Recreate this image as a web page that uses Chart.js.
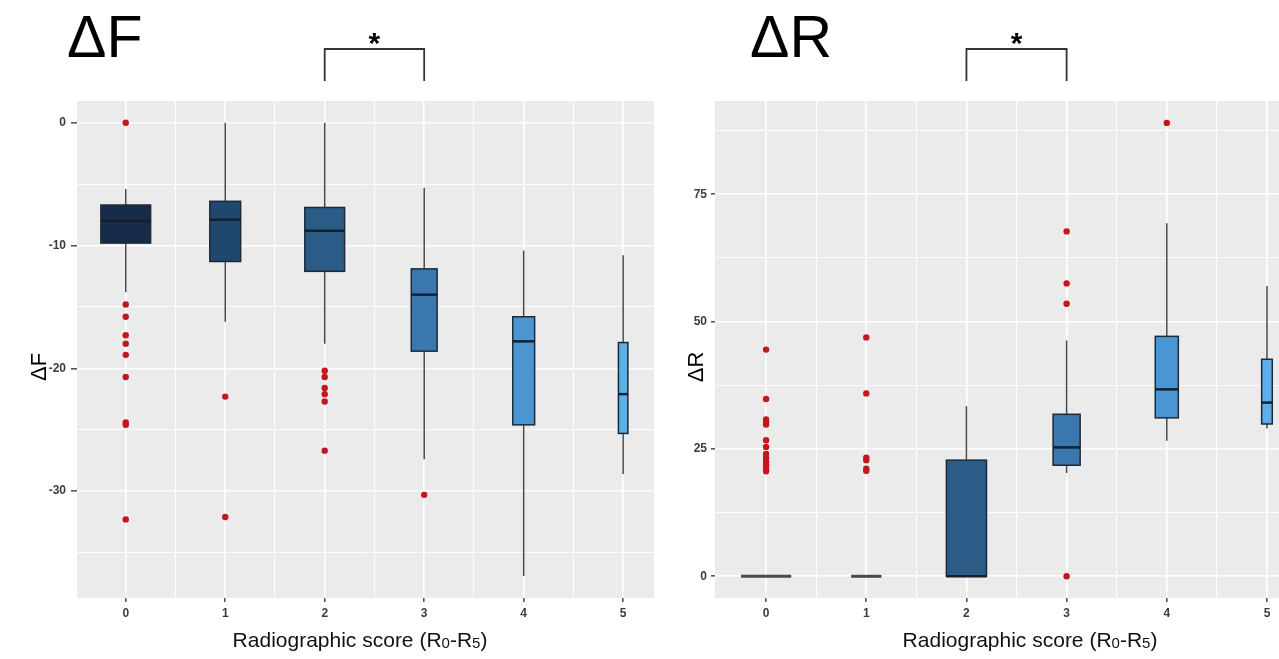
<!DOCTYPE html>
<html>
<head>
<meta charset="utf-8">
<script src="https://cdn.jsdelivr.net/npm/chart.js@4.4.1/dist/chart.umd.min.js"></script>
<style>
  body { margin: 0; background: #fff; width: 1279px; height: 659px; overflow: hidden; position: relative; }
  canvas { position: absolute; top: 0; }
  #chartF { left: 0; }
  #chartR { left: 660px; }
</style>
</head>
<body>
<canvas id="chartF" width="660" height="659"></canvas>
<canvas id="chartR" width="623" height="659"></canvas>
<script>
const categories = [0, 1, 2, 3, 4, 5];
const xTicksMajor = [0, 1, 2, 3, 4, 5];
const xTicksMinor = [0.5, 1.5, 2.5, 3.5, 4.5];
const boxColors = ['#172c48', '#1f4770', '#2b5c88', '#3a77ae', '#4c95d3', '#5bb0ec'];
const sigPair = [2, 3];

// ΔF panel
const dfLow  = [-13.8, -16.2, -18.0, -27.4, -36.9, -28.6];
const dfQ1   = [-9.8, -11.3, -12.1, -18.6, -24.6, -25.3];
const dfMed  = [-8.0, -7.9, -8.8, -14.0, -17.8, -22.1];
const dfQ3   = [-6.7, -6.4, -6.9, -11.9, -15.8, -17.9];
const dfHigh = [-5.4, 0, 0, -5.3, -10.4, -10.8];
const dfWidth = [0.5, 0.31, 0.4, 0.26, 0.22, 0.095];
const dfOutliers = [
  [0, -14.8, -15.8, -17.3, -18.0, -18.9, -20.7, -24.4, -24.6, -32.3],
  [-22.3, -32.1],
  [-20.2, -20.7, -21.6, -22.1, -22.7, -26.7],
  [-30.3],
  [],
  []
];
const dfTicksMajor = [0, -10, -20, -30];
const dfTicksMinor = [-5, -15, -25, -35];

// ΔR panel
const drLow  = [0, 0, 0, 20.3, 26.6, 29.0];
const drQ1   = [0, 0, 0, 21.8, 31.1, 29.9];
const drMed  = [0, 0, 0, 25.3, 36.7, 34.1];
const drQ3   = [0, 0, 22.8, 31.8, 47.1, 42.6];
const drHigh = [0, 0, 33.4, 46.3, 69.3, 57.0];
const drWidth = [0.5, 0.3, 0.4, 0.27, 0.23, 0.106];
const drOutliers = [
  [44.5, 34.8, 30.8, 30.3, 29.8, 26.7, 25.4, 24.0, 23.2, 22.5, 21.8, 21.0, 20.6],
  [46.9, 35.9, 23.3, 22.8, 21.1, 20.7],
  [],
  [67.7, 57.5, 53.5, 0],
  [89.0],
  []
];
const drTicksMajor = [0, 25, 50, 75];
const drTicksMinor = [12.5, 37.5, 62.5, 87.5];

const FONT = '"Liberation Sans", Arial, sans-serif';

const boxPlugin = {
  id: 'boxes',
  beforeDraw(chart) {
    const { ctx, chartArea: a } = chart;
    ctx.save();
    ctx.fillStyle = '#ebebeb';
    ctx.fillRect(a.left, a.top, a.right - a.left, a.bottom - a.top);
    ctx.restore();
  },
  beforeDatasetsDraw(chart, args, o) {
    const { ctx } = chart;
    const xs = chart.scales.x, ys = chart.scales.y;
    ctx.save();
    categories.forEach((c, i) => {
      const cx = xs.getPixelForValue(c);
      const x0 = xs.getPixelForValue(c - o.width[i] / 2);
      const x1 = xs.getPixelForValue(c + o.width[i] / 2);
      const yLo = ys.getPixelForValue(o.low[i]);
      const yQ1 = ys.getPixelForValue(o.q1[i]);
      const yMed = ys.getPixelForValue(o.med[i]);
      const yQ3 = ys.getPixelForValue(o.q3[i]);
      const yHi = ys.getPixelForValue(o.high[i]);
      const flat = o.q1[i] === o.q3[i];
      // whiskers
      ctx.strokeStyle = '#4a4a4a';
      ctx.lineWidth = 1.5;
      ctx.beginPath();
      ctx.moveTo(cx, yHi); ctx.lineTo(cx, yQ3);
      ctx.moveTo(cx, yQ1); ctx.lineTo(cx, yLo);
      ctx.stroke();
      // box
      ctx.fillStyle = boxColors[i];
      ctx.fillRect(x0, yQ3, x1 - x0, yQ1 - yQ3);
      ctx.strokeStyle = flat ? '#4a4a4a' : '#1c2a38';
      ctx.lineWidth = 1.5;
      ctx.strokeRect(x0, yQ3, x1 - x0, yQ1 - yQ3);
      // median
      ctx.strokeStyle = flat ? '#4a4a4a' : '#14202c';
      ctx.lineWidth = flat ? 3 : 2.5;
      ctx.beginPath();
      ctx.moveTo(x0, yMed); ctx.lineTo(x1, yMed);
      ctx.stroke();
    });
    ctx.restore();
  }
};

const decorPlugin = {
  id: 'decor',
  afterDraw(chart, args, o) {
    const { ctx } = chart;
    const xs = chart.scales.x;
    ctx.save();
    ctx.fillStyle = '#000';
    // big panel title
    ctx.font = '59px ' + FONT;
    ctx.textAlign = 'left';
    ctx.textBaseline = 'alphabetic';
    ctx.fillText(o.title, o.titleX, 57);
    // significance bracket
    const b0 = xs.getPixelForValue(sigPair[0]);
    const b1 = xs.getPixelForValue(sigPair[1]);
    ctx.strokeStyle = '#333';
    ctx.lineWidth = 1.8;
    ctx.beginPath();
    ctx.moveTo(b0, 81); ctx.lineTo(b0, 49); ctx.lineTo(b1, 49); ctx.lineTo(b1, 81);
    ctx.stroke();
    ctx.font = 'bold 30px ' + FONT;
    ctx.textAlign = 'center';
    ctx.fillText('*', (b0 + b1) / 2, 53);
    // y axis title
    ctx.save();
    ctx.translate(o.yTitleX, 367);
    ctx.rotate(-Math.PI / 2);
    ctx.font = '22px ' + FONT;
    ctx.textBaseline = 'middle';
    ctx.fillText(o.title, 0, 0);
    ctx.restore();
    // x axis title with subscripts
    const parts = [['Radiographic score (R', 21, 0], ['0', 15, 1], ['-R', 21, 0], ['5', 15, 1], [')', 21, 0]];
    let total = 0;
    parts.forEach(p => { ctx.font = p[1] + 'px ' + FONT; p.push(ctx.measureText(p[0]).width); total += p[3]; });
    let x = o.xTitleX - total / 2;
    ctx.textAlign = 'left';
    ctx.fillStyle = '#111';
    parts.forEach(p => {
      ctx.font = p[1] + 'px ' + FONT;
      ctx.fillText(p[0], x, 647 + p[2]);
      x += p[3];
    });
    ctx.restore();
  }
};

function makeChart(id, cfg) {
  const points = [];
  cfg.outliers.forEach((arr, i) => arr.forEach(v => points.push({ x: categories[i], y: v })));
  const tickFont = { family: FONT, size: 12, weight: 'bold' };
  return new Chart(document.getElementById(id), {
    type: 'scatter',
    data: {
      datasets: [{
        data: points,
        pointRadius: 3.2,
        pointBackgroundColor: '#c4161c',
        pointBorderWidth: 0
      }]
    },
    options: {
      responsive: false,
      animation: false,
      layout: { padding: { top: 101, right: cfg.padRight, left: 0, bottom: 0 } },
      plugins: {
        legend: { display: false },
        tooltip: { enabled: false },
        boxes: { low: cfg.low, q1: cfg.q1, med: cfg.med, q3: cfg.q3, high: cfg.high, width: cfg.width },
        decor: { title: cfg.title, titleX: cfg.titleX, yTitleX: cfg.yTitleX, xTitleX: cfg.xTitleX }
      },
      scales: {
        x: {
          type: 'linear',
          min: cfg.xMin,
          max: cfg.xMax,
          afterBuildTicks: s => { s.ticks = xTicksMajor.concat(xTicksMinor).map(v => ({ value: v })); },
          afterFit: s => { s.height = 61; s.paddingLeft = 0; s.paddingRight = 0; },
          border: { display: false },
          grid: {
            color: '#ffffff',
            lineWidth: c => xTicksMajor.includes(c.tick.value) ? 1.6 : 0.9,
            tickColor: c => xTicksMajor.includes(c.tick.value) ? '#555' : 'rgba(0,0,0,0)',
            tickLength: 4
          },
          ticks: {
            font: tickFont,
            color: '#3c3c3c',
            padding: 4,
            maxRotation: 0,
            autoSkip: false,
            callback: v => xTicksMajor.includes(v) ? String(v) : ''
          }
        },
        y: {
          min: cfg.yMin,
          max: cfg.yMax,
          afterBuildTicks: s => { s.ticks = cfg.ticksMajor.concat(cfg.ticksMinor).map(v => ({ value: v })); },
          afterFit: s => { s.width = cfg.yWidth; s.paddingTop = 0; s.paddingBottom = 0; },
          border: { display: false },
          grid: {
            color: '#ffffff',
            lineWidth: c => cfg.ticksMajor.includes(c.tick.value) ? 1.6 : 0.9,
            tickColor: c => cfg.ticksMajor.includes(c.tick.value) ? '#555' : 'rgba(0,0,0,0)',
            tickLength: cfg.tickLen
          },
          ticks: {
            font: tickFont,
            color: '#3c3c3c',
            padding: cfg.tickPad,
            autoSkip: false,
            callback: v => cfg.ticksMajor.includes(v) ? String(v) : ''
          }
        }
      }
    },
    plugins: [boxPlugin, decorPlugin]
  });
}

makeChart('chartF', {
  title: 'ΔF', titleX: 67, yTitleX: 40, xTitleX: 360,
  low: dfLow, q1: dfQ1, med: dfMed, q3: dfQ3, high: dfHigh, width: dfWidth, outliers: dfOutliers,
  ticksMajor: dfTicksMajor, ticksMinor: dfTicksMinor,
  xMin: -0.49, xMax: 5.31, yMin: -38.7, yMax: 1.77,
  yWidth: 77, padRight: 6, tickLen: 6, tickPad: 5
});

makeChart('chartR', {
  title: 'ΔR', titleX: 90, yTitleX: 37, xTitleX: 370,
  low: drLow, q1: drQ1, med: drMed, q3: drQ3, high: drHigh, width: drWidth, outliers: drOutliers,
  ticksMajor: drTicksMajor, ticksMinor: drTicksMinor,
  xMin: -0.51, xMax: 5.12, yMin: -4.26, yMax: 93.3,
  yWidth: 55, padRight: 0, tickLen: 4, tickPad: 4
});
</script>
</body>
</html>
